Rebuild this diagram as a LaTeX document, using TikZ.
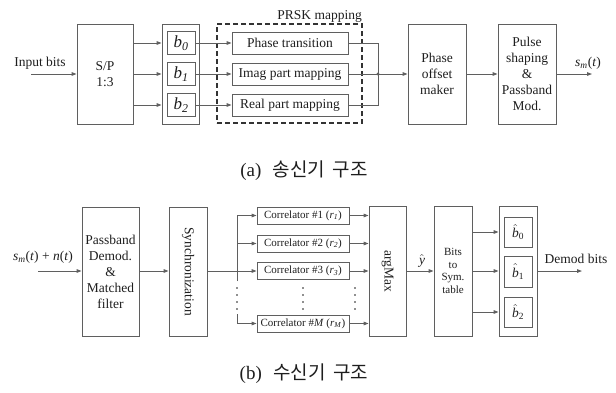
\documentclass[tikz,border=0pt]{standalone}
\usepackage{fontspec}
\setmainfont{Liberation Serif}
\newfontfamily\krfont{Noto Sans CJK KR}
\usetikzlibrary{arrows.meta}
\definecolor{boxc}{RGB}{95,95,95}
\definecolor{txtc}{RGB}{30,30,30}
\tikzset{
  blk/.style={draw=boxc, line width=0.9pt, inner sep=0pt, align=center, text=txtc, font=\fontsize{13.5}{16}\selectfont},
  arr/.style={draw=boxc, line width=0.9pt, -{Triangle[length=5pt,width=3.6pt]}},
  ln/.style={draw=boxc, line width=0.9pt},
  lbl/.style={inner sep=0pt, text=txtc, font=\fontsize{13.5}{16}\selectfont},
  smalltxt/.style={font=\fontsize{11}{12.5}\selectfont},
  bigit/.style={font=\fontsize{17}{19}\selectfont},
  dotc/.style={fill=txtc},
}
\begin{document}
\begin{tikzpicture}[x=1pt,y=-1pt]
\path[use as bounding box] (0,0) rectangle (616,392);

% ---------------- (a) transmitter ----------------
\node[lbl] (inlbl) at (40,63) {Input bits};
\coordinate (inS) at (31,74);
\node[blk, minimum width=56pt, minimum height=100pt] (sp) at (105,74) {S/P\\1:3};
\node[blk, minimum width=37pt, minimum height=100pt] (bo) at (180.5,74) {};
\node[blk, bigit, minimum width=28pt, minimum height=23pt] (b0) at (181,43) {\textit{b}\textsubscript{\textit{0}}};
\node[blk, bigit, minimum width=28pt, minimum height=23pt] (b1) at (181,74) {\textit{b}\textsubscript{\textit{1}}};
\node[blk, bigit, minimum width=28pt, minimum height=23pt] (b2) at (181,105) {\textit{b}\textsubscript{\textit{2}}};

\node[draw=black!80, line width=1.6pt, dash pattern=on 5pt off 3pt, minimum width=145pt, minimum height=99pt, inner sep=0pt] (prsk) at (289.5,73.5) {};
\node[lbl, anchor=base east] (prsklbl) at (362,19) {PRSK mapping};

\node[blk, minimum width=116pt, minimum height=22pt] (pt) at (290,43) {Phase transition};
\node[blk, minimum width=116pt, minimum height=22pt] (im) at (290,74) {Imag part mapping};
\node[blk, minimum width=116pt, minimum height=22pt] (re) at (290,105) {Real part mapping};

\coordinate (j) at (378,74);
\node[blk, minimum width=58pt, minimum height=100pt] (pom) at (437,74) {Phase\\offset\\maker};
\node[blk, minimum width=58pt, minimum height=100pt] (pul) at (527,74) {Pulse\\shaping\\\&\\Passband\\Mod.};
\coordinate (outT) at (592,74);
\node[lbl] (smlbl) at (588,63) {\textit{s}\textsubscript{\textit{m}}(\textit{t})};

\draw[arr] (inS) -- (sp.west);
\draw[arr] (sp.east |- b0) -- (bo.west |- b0);
\draw[arr] (sp.east |- b1) -- (bo.west |- b1);
\draw[arr] (sp.east |- b2) -- (bo.west |- b2);
\draw[arr] (b0.east) -- (pt.west);
\draw[arr] (b1.east) -- (im.west);
\draw[arr] (b2.east) -- (re.west);
\draw[ln] (pt.east) -| (j);
\draw[ln] (re.east) -| (j);
\draw[ln] (im.east) -- (j);
\fill[boxc] (j) circle (1.7pt);
\draw[arr] (j) -- (pom.west);
\draw[arr] (pom.east) -- (pul.west);
\draw[arr] (pul.east) -- (outT);

\node[lbl, font=\fontsize{19}{22}\selectfont] (capa) at (304,171) {(a)\hspace{0.6em}{\krfont 송신기\hspace{0.4em}구조}};

% ---------------- (b) receiver ----------------
\node[lbl] (rxlbl) at (43,257) {\textit{s}\textsubscript{\textit{m}}(\textit{t}) + \textit{n}(\textit{t})};
\coordinate (inB) at (38,271);
\node[blk, minimum width=57pt, minimum height=129pt] (pbd) at (110.5,271.5) {Passband\\Demod.\\\&\\Matched\\filter};
\node[blk, minimum width=38pt, minimum height=129pt] (sync) at (188,271.5) {};
\node[lbl, rotate=-90] (synclbl) at (sync.center) {Synchronization};

\node[blk, smalltxt, minimum width=92pt, minimum height=17pt] (c1) at (303,215.5) {Correlator \#1 (\textit{r}\textsubscript{\textit{1}})};
\node[blk, smalltxt, minimum width=92pt, minimum height=17pt] (c2) at (303,243.5) {Correlator \#2 (\textit{r}\textsubscript{\textit{2}})};
\node[blk, smalltxt, minimum width=92pt, minimum height=17pt] (c3) at (303,271) {Correlator \#3 (\textit{r}\textsubscript{\textit{3}})};
\node[blk, smalltxt, minimum width=92pt, minimum height=17pt] (cM) at (303,323.5) {Correlator \#\textit{M} (\textit{r}\textsubscript{\textit{M}})};

\coordinate (bt) at (237,215.5);
\coordinate (bm) at (237,281);
\coordinate (bn) at (237,314);

\node[blk, minimum width=37pt, minimum height=130pt] (am) at (387.5,271) {};
\node[lbl, rotate=-90] (amlbl) at (am.center) {argMax};
\node[lbl] (yhat) at (422,261) {$\hat{\mbox{\textit{y}}}$};

\node[blk, smalltxt, minimum width=38pt, minimum height=130pt] (bits) at (453,271) {Bits\\to\\Sym.\\table};
\node[blk, minimum width=38pt, minimum height=130pt] (bout) at (518,271) {};
\node[blk, minimum width=28pt, minimum height=30pt] (h0) at (518,232) {$\hat{\mbox{\textit{b}}}$\textsubscript{0}};
\node[blk, minimum width=28pt, minimum height=31pt] (h1) at (518,271.5) {$\hat{\mbox{\textit{b}}}$\textsubscript{1}};
\node[blk, minimum width=28pt, minimum height=30pt] (h2) at (518,312) {$\hat{\mbox{\textit{b}}}$\textsubscript{2}};
\coordinate (outB) at (582,271);
\node[lbl] (dmlbl) at (576,259) {Demod bits};

\draw[arr] (inB) -- (inB -| pbd.west);
\draw[arr] (pbd.east |- inB) -- (sync.west |- inB);
\draw[arr] (sync.east |- c3) -- (c3.west);
\draw[ln] (bm) -- (bt);
\draw[arr] (bt) -- (c1.west);
\draw[arr] (bt |- c2) -- (c2.west);
\draw[arr] (bn) |- (cM.west);
\foreach \yy in {288,295,302,309}{
  \fill[txtc] (237,\yy) circle (0.8pt);
  \fill[txtc] (303,\yy) circle (0.8pt);
  \fill[txtc] (355,\yy) circle (0.8pt);
}
\draw[arr] (c1.east) -- (am.west |- c1);
\draw[arr] (c2.east) -- (am.west |- c2);
\draw[arr] (c3.east) -- (am.west |- c3);
\draw[arr] (cM.east) -- (am.west |- cM);
\draw[arr] (am.east |- outB) -- (bits.west |- outB);
\draw[arr] (bits.east |- h0) -- (bout.west |- h0);
\draw[arr] (bits.east |- outB) -- (bout.west |- outB);
\draw[arr] (bits.east |- h2) -- (bout.west |- h2);
\draw[arr] (bout.east |- outB) -- (outB);

\node[lbl, font=\fontsize{19}{22}\selectfont] (capb) at (304,374) {(b)\hspace{0.6em}{\krfont 수신기\hspace{0.4em}구조}};
\end{tikzpicture}
\end{document}
